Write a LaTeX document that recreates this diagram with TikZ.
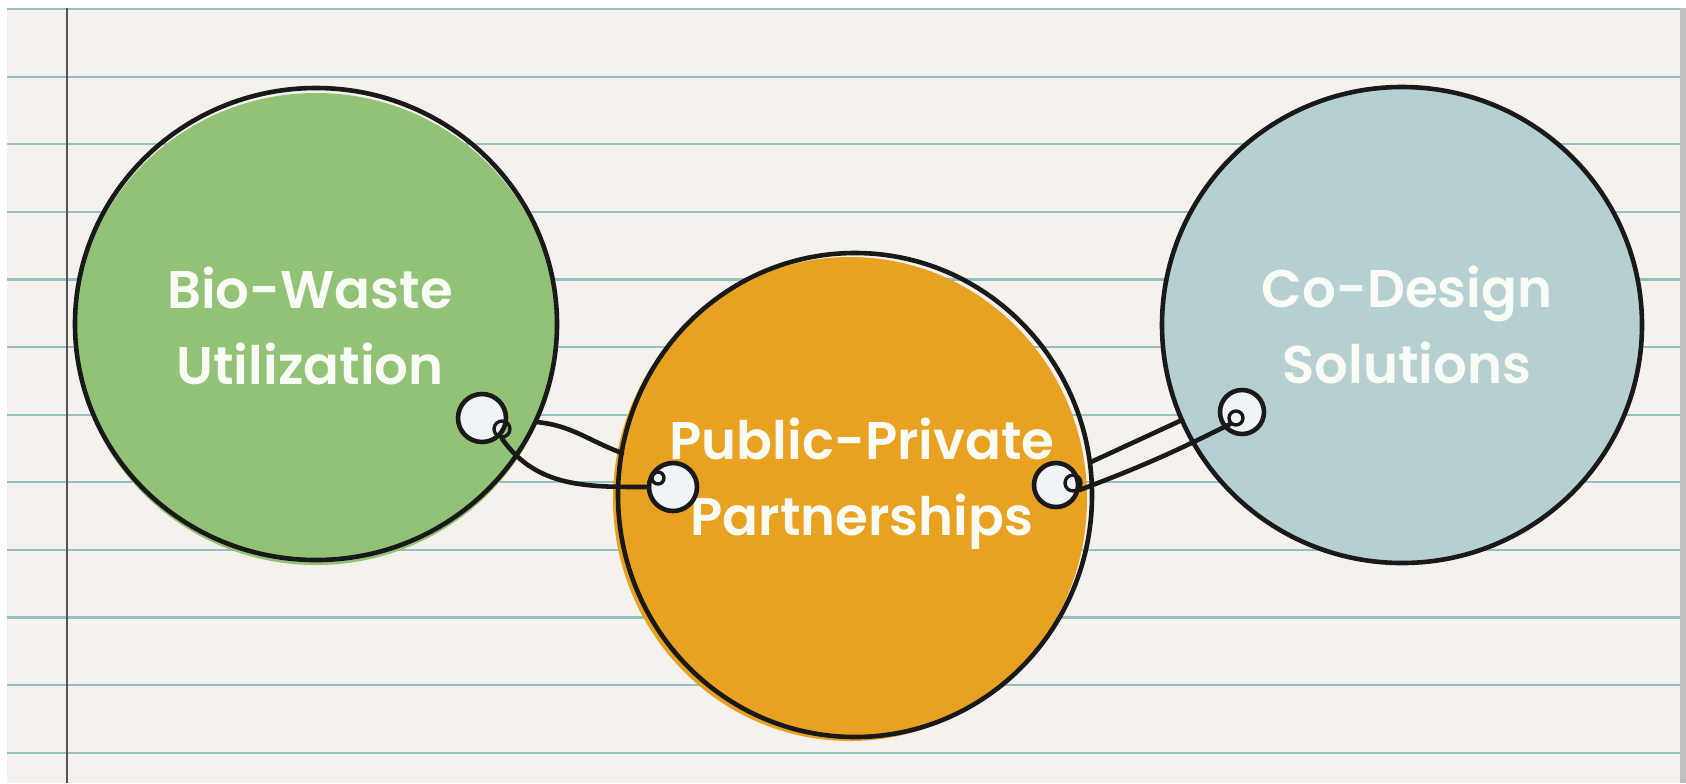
\documentclass[tikz,border=0pt]{standalone}
\usepackage{fontspec}
\setmainfont{Poppins}[BoldFont={* SemiBold}]

\definecolor{paper}{RGB}{245,241,237}
\definecolor{rule}{RGB}{150,192,192}
\definecolor{margin}{RGB}{85,85,85}
\definecolor{leaf}{RGB}{145,194,118}
\definecolor{amber}{RGB}{232,161,32}
\definecolor{mist}{RGB}{182,208,210}
\definecolor{hole}{RGB}{240,244,246}
\definecolor{chalk}{RGB}{248,252,244}

\tikzset{
  ink/.style={line width=2.3pt, black!90, line join=round, line cap=round},
  blobtext/.style={text=chalk, font=\bfseries\fontsize{26.5}{38}\selectfont, align=center, inner sep=0pt},
  loophole/.style={circle, ink, draw, fill=hole, inner sep=0pt, minimum size=24pt},
  curl/.style={circle, ink, line width=1.7pt, draw, inner sep=0pt, minimum size=8pt}
}

\begin{document}
\begin{tikzpicture}[x=0.5pt, y=-0.5pt]
  \useasboundingbox (0,0) rectangle (1686,783);
  \fill[white] (0,0) rectangle (1686,783);
  \fill[paper] (7,8) rectangle (1680,783);
  \foreach \k in {0,...,11}
    \draw[rule, line width=1.1pt] (7,{9+67.6*\k}) -- (1680,{9+67.6*\k});
  \draw[margin, line width=1.2pt] (67,8) -- (67,783);
  \fill[black!25] (1680,8) rectangle (1686,783);

  \fill[leaf] (316,329) ellipse [x radius=241, y radius=236];
  \draw[ink] (316,324) ellipse [x radius=241, y radius=236];
  \fill[amber] (850,499) ellipse [x radius=237, y radius=242];
  \draw[ink] (855,495) ellipse [x radius=237, y radius=242];
  \fill[mist] (1402,326) ellipse [x radius=240, y radius=238];
  \draw[ink] (1402,325) ellipse [x radius=240, y radius=238];

  \node[blobtext] (bio) at (310,326) {Bio-Waste\\Utilization};
  \node[blobtext] (ppp) at (862,484) {Public-Private\\Partnerships};
  \node[blobtext] (codes) at (1407,325) {Co-Design\\Solutions};

  \node[loophole] (gloop) at (482,418) {};
  \node[loophole] (oloopl) at (673,487) {};
  \node[loophole, minimum size=22pt] (oloopr) at (1056,485) {};
  \node[loophole, minimum size=22pt] (bloop) at (1242,412) {};

  \node[curl] (gcurl) at (502,429) {};
  \node[curl, minimum size=6pt] (olcurl) at (658,478) {};
  \node[curl] (orcurl) at (1073,483) {};
  \node[curl, minimum size=7pt] (bcurl) at (1236,418) {};

  \coordinate (gedge) at (536,422);
  \coordinate (oedgel) at (622,453);
  \coordinate (oedger) at (1091,462);
  \coordinate (bedge) at (1182,420);

  \draw[ink] (gedge) to[out=-5, in=160] (oedgel);
  \draw[ink] (gcurl.south) to[out=-55, in=180] (oloopl.west);
  \draw[ink] (oedger) -- (bedge);
  \draw[ink] (orcurl.south east) to[bend right=3] (bcurl.south west);
\end{tikzpicture}
\end{document}
